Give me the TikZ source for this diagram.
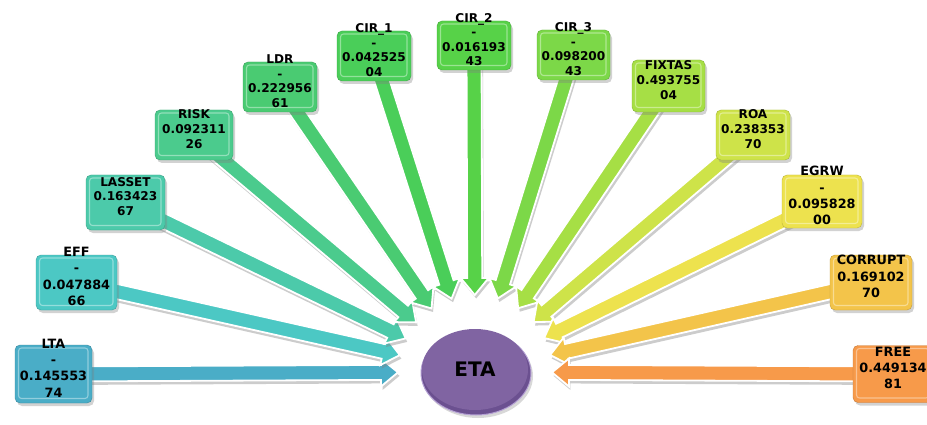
\documentclass[tikz,border=0pt]{standalone}
\usepackage{fontspec}
\setmainfont{DejaVu Sans}
\usetikzlibrary{calc,shadows,shapes.geometric}
\pgfdeclarelayer{bg}
\pgfsetlayers{bg,main}
\definecolor{cLTA}{HTML}{4AADC7}
\definecolor{cEFF}{HTML}{4CC8C4}
\definecolor{cLASSET}{HTML}{4CCAAA}
\definecolor{cRISK}{HTML}{4BCB8D}
\definecolor{cLDR}{HTML}{4ACB72}
\definecolor{cCIRa}{HTML}{4ACE59}
\definecolor{cCIRb}{HTML}{57D248}
\definecolor{cCIRc}{HTML}{7CD848}
\definecolor{cFIXTAS}{HTML}{A6DF45}
\definecolor{cROA}{HTML}{CEE349}
\definecolor{cEGRW}{HTML}{EDE24E}
\definecolor{cCORRUPT}{HTML}{F3C44A}
\definecolor{cFREE}{HTML}{F79A4A}
\definecolor{cETA}{HTML}{8064A2}
\definecolor{cETAside}{HTML}{6B5090}
\definecolor{cETArim}{HTML}{B5A1D4}
\tikzset{
  valbox/.style={draw=#1!80!black, line width=0.4pt, fill=#1, rounded corners=5pt, inner sep=0pt,
    drop shadow={shadow xshift=2pt, shadow yshift=-3pt, opacity=0.35},
    path picture={\draw[#1!60!white, line width=1.1pt, rounded corners=3pt]
      ([shift={(3.5pt,-3pt)}]path picture bounding box.north west) rectangle
      ([shift={(-4pt,4.5pt)}]path picture bounding box.south east);}},
  bigtxt/.style={font=\bfseries\fontsize{12.8}{16.3}\selectfont, align=center, inner sep=0pt, text=black},
  smtxt/.style={font=\bfseries\fontsize{12.1}{14.6}\selectfont, align=center, inner sep=0pt, text=black},
  arrowfill/.style={fill=#1, draw=white, line width=1.8pt, line join=miter,
    drop shadow={shadow xshift=1.5pt, shadow yshift=-3.5pt, opacity=0.4}},
  etanode/.style={ellipse, fill=cETA, minimum width=106pt, minimum height=81pt, inner sep=0pt,
    font=\bfseries\fontsize{20}{24}\selectfont, text=black}
}
\newcommand\ArrowTo[2]{%
  \coordinate (#1-tip) at ($(hub)!77pt!(#1.center)$);
  \coordinate (#1-hd) at ($(#1-tip)!17pt!(#1.center)$);
  \path[arrowfill=#2] (#1-tip) -- ($(#1-hd)!14pt!90:(#1.center)$) -- ($(#1-hd)!7.5pt!90:(#1.center)$)
    -- ($(#1.center)!7.5pt!-90:(#1-hd)$) -- ($(#1.center)!7.5pt!90:(#1-hd)$)
    -- ($(#1-hd)!7.5pt!-90:(#1.center)$) -- ($(#1-hd)!14pt!-90:(#1.center)$) -- cycle;}
\begin{document}
\begin{tikzpicture}[x=1pt,y=-1pt]
\useasboundingbox (0,0) rectangle (927,425);
\coordinate (hub) at (475,372);
% boxes
\node[valbox=cLTA, minimum width=77pt, minimum height=58pt] (lta) at (53.5,374) {};
\node[bigtxt] (ltaT) at ($(lta.center)+(0,-6)$) {LTA\\-\\0.145553\\74};
\node[valbox=cEFF, minimum width=81pt, minimum height=55pt] (eff) at (76.5,282.5) {};
\node[bigtxt] (effT) at ($(eff.center)+(0,-6)$) {EFF\\-\\0.047884\\66};
\node[valbox=cLASSET, minimum width=79pt, minimum height=55pt] (lasset) at (125.5,202.5) {};
\node[smtxt] (lassetT) at ($(lasset.center)+(0,-6)$) {LASSET\\0.163423\\67};
\node[valbox=cRISK, minimum width=78pt, minimum height=50pt] (risk) at (194,135) {};
\node[smtxt] (riskT) at ($(risk.center)+(0,-6)$) {RISK\\0.092311\\26};
\node[valbox=cLDR, minimum width=74pt, minimum height=50pt] (ldr) at (280,87) {};
\node[smtxt] (ldrT) at ($(ldr.center)+(0,-6)$) {LDR\\-\\0.222956\\61};
\node[valbox=cCIRa, minimum width=74pt, minimum height=50pt] (cira) at (374,56) {};
\node[smtxt] (ciraT) at ($(cira.center)+(0,-6)$) {CIR\_1\\-\\0.042525\\04};
\node[valbox=cCIRb, minimum width=74pt, minimum height=49pt] (cirb) at (474,45.5) {};
\node[smtxt] (cirbT) at ($(cirb.center)+(0,-6)$) {CIR\_2\\-\\0.016193\\43};
\node[valbox=cCIRc, minimum width=73pt, minimum height=50pt] (circ) at (573.5,55) {};
\node[smtxt] (circT) at ($(circ.center)+(0,-6)$) {CIR\_3\\-\\0.098200\\43};
\node[valbox=cFIXTAS, minimum width=73pt, minimum height=52pt] (fixtas) at (668.5,86) {};
\node[smtxt] (fixtasT) at ($(fixtas.center)+(0,-6)$) {FIXTAS\\0.493755\\04};
\node[valbox=cROA, minimum width=74pt, minimum height=50pt] (roa) at (753,135) {};
\node[smtxt] (roaT) at ($(roa.center)+(0,-6)$) {ROA\\0.238353\\70};
\node[valbox=cEGRW, minimum width=80pt, minimum height=53pt] (egrw) at (822,201.5) {};
\node[bigtxt] (egrwT) at ($(egrw.center)+(0,-6)$) {EGRW\\-\\0.095828\\00};
\node[valbox=cCORRUPT, minimum width=82pt, minimum height=55pt] (corrupt) at (871,282.5) {};
\node[bigtxt] (corruptT) at ($(corrupt.center)+(0,-6)$) {CORRUPT\\0.169102\\70};
\node[valbox=cFREE, minimum width=80pt, minimum height=57pt] (free) at (893,374) {};
\node[bigtxt] (freeT) at ($(free.center)+(0,-6)$) {FREE\\0.449134\\81};
% centre
\node[etanode] (eta) at (475,369.5) {ETA};
\begin{pgfonlayer}{bg}
  \fill[white] (0,0) rectangle (927,425);
  \ArrowTo{lta}{cLTA}
  \ArrowTo{eff}{cEFF}
  \ArrowTo{lasset}{cLASSET}
  \ArrowTo{risk}{cRISK}
  \ArrowTo{ldr}{cLDR}
  \ArrowTo{cira}{cCIRa}
  \ArrowTo{cirb}{cCIRb}
  \ArrowTo{circ}{cCIRc}
  \ArrowTo{fixtas}{cFIXTAS}
  \ArrowTo{roa}{cROA}
  \ArrowTo{egrw}{cEGRW}
  \ArrowTo{corrupt}{cCORRUPT}
  \ArrowTo{free}{cFREE}
  \path[fill=cETAside, draw=cETArim, line width=1pt,
    drop shadow={shadow xshift=2pt, shadow yshift=-3pt, opacity=0.3}]
    (476,373) ellipse [x radius=55pt, y radius=42pt];
\end{pgfonlayer}
\end{tikzpicture}
\end{document}
